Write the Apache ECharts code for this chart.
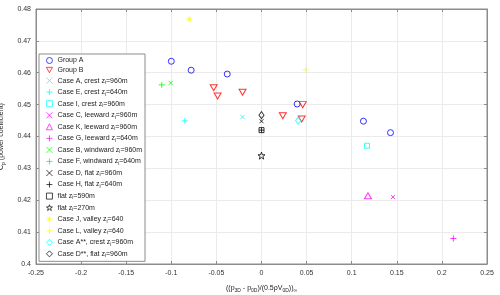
<!DOCTYPE html>
<html>
<head>
<meta charset="utf-8">
<title>Cp scatter</title>
<script src="https://cdn.jsdelivr.net/npm/echarts@6/dist/echarts.min.js"></script>
<style>
  html,body{margin:0;padding:0;background:#fff;}
  #container{width:500px;height:295px;}
</style>
</head>
<body>
<div id="container"></div>
<script>
// points, [x, Cp]
var groupA = [[-0.100,0.4636],[-0.078,0.4608],[-0.038,0.4596],[0.0395,0.4502],[0.113,0.4448],[0.143,0.4412]];
var groupB = [[-0.053,0.4553],[-0.0487,0.4527],[-0.021,0.4539],[0.0236,0.4465],[0.0457,0.4500],[0.0446,0.4455]];
var caseA  = [[-0.021,0.4461]];
var caseE  = [[-0.085,0.4449]];
var caseI  = [[0.117,0.4371]];
var caseC  = [[0.1457,0.4210]];
var caseK  = [[0.118,0.4214]];
var caseG  = [[0.2127,0.4080]];
var caseB  = [[-0.1007,0.4568]];
var caseF  = [[-0.1106,0.4562]];
var caseD  = [[0,0.4448]];
var caseH  = [[0,0.4420]];
var flat590 = [[0,0.4420]];
var flat270 = [[0,0.4340]];
var caseJ  = [[-0.080,0.4768]];
var caseL  = [[0.049,0.4609]];
var caseA2 = [[0.0406,0.4450]];
var caseD2 = [[0,0.4467]];

var xMin = -0.25, xMax = 0.25, xStep = 0.05;
var yMin = 0.40, yMax = 0.48, yStep = 0.01;

var P_X = 'path://M0,0L10,10M10,0L0,10';
var P_PLUS = 'path://M5,0L5,10M0,5L10,5';
var P_AST = 'path://M5,0L5,10M0,5L10,5M1.5,1.5L8.5,8.5M8.5,1.5L1.5,8.5';
var P_TRIDOWN = 'path://M0,0L10,0L5,9Z';
var P_STAR = 'path://M5,0L6.18,3.38L9.76,3.45L6.9,5.62L7.94,9.05L5,7L2.06,9.05L3.1,5.62L0.24,3.45L3.82,3.38Z';

function mk(name, pts, symbol, size, color){
   return {
      name: name,
      type: 'scatter',
      data: pts,
      symbol: symbol,
      symbolSize: size,
      itemStyle: {color: 'rgba(0,0,0,0)', borderColor: color, borderWidth: 1},
      emphasis: {disabled: true},
      z: 3
   };
}

var series = [
   mk('Group A', groupA, 'circle', 6, '#0000ff'),
   mk('Group B', groupB, P_TRIDOWN, [7,6], '#ff0000'),
   mk('Case A, crest z_i=960m', caseA, P_X, 4, '#00ffff'),
   mk('Case E, crest z_i=640m', caseE, P_PLUS, 6, '#00ffff'),
   mk('Case I, crest z_i=960m', caseI, 'rect', 5, '#00ffff'),
   mk('Case C, leeward z_i=960m', caseC, P_X, 4, '#ff00ff'),
   mk('Case K, leeward z_i=960m', caseK, 'triangle', [7,6], '#ff00ff'),
   mk('Case G, leeward z_i=640m', caseG, P_PLUS, 6, '#ff00ff'),
   mk('Case B, windward z_i=960m', caseB, P_X, 4, '#00ff00'),
   mk('Case F, windward z_i=640m', caseF, P_PLUS, 6, '#00ff00'),
   mk('Case D, flat z_i=960m', caseD, P_X, 4, '#000000'),
   mk('Case H, flat z_i=640m', caseH, P_PLUS, 5, '#000000'),
   mk('flat z_i=590m', flat590, 'rect', 5, '#000000'),
   mk('flat z_i=270m', flat270, P_STAR, 7, '#000000'),
   mk('Case J, valley z_i=640', caseJ, P_AST, 6, '#ffff00'),
   mk('Case L, valley z_i=640', caseL, P_PLUS, 6, '#ffff00'),
   mk('Case A**, crest z_i=960m', caseA2, 'diamond', [5,7], '#00ffff'),
   mk('Case D**, flat z_i=960m', caseD2, 'diamond', [5,7], '#000000')
];

function fmtTick(v){ return String(parseFloat(v.toFixed(2))); }

var tickFont = {fontFamily: 'Liberation Sans', fontSize: 7, color: '#333'};
var axisGray = '#8c8c8c';

var option = {
   animation: false,
   textStyle: {fontFamily: 'Liberation Sans'},
   grid: {left: 36, right: 13, top: 9, bottom: 31, show: true, borderColor: axisGray, borderWidth: 1, outerBoundsMode: 'none'},
   legend: {
      orient: 'vertical',
      left: 39, top: 54,
      padding: [3, 3, 3, 7],
      itemWidth: 6, itemHeight: 6, itemGap: 2.55,
      itemStyle: {borderWidth: 0.9},
      backgroundColor: '#fff',
      borderColor: axisGray, borderWidth: 1,
      selectedMode: false,
      data: series.map(function(s){ return s.name; }),
      formatter: function(name){
         var p = name.split('z_i');
         if(p.length > 1){
            return '{t|' + p[0] + 'z}{s|i}{t|' + p[1] + '}';
         }
         return '{t|' + name + '}';
      },
      textStyle: {
         color: '#222',
         rich: {
            t: {fontFamily: 'Liberation Sans', fontSize: 7, lineHeight: 9, color: '#222'},
            s: {fontFamily: 'Liberation Sans', fontSize: 5, lineHeight: 5, padding: [4,0,0,0], color: '#222'}
         }
      }
   },
   xAxis: [{
      type: 'value', min: xMin, max: xMax, interval: xStep,
      name: '{t|((p}{s|3D}{t| - p}{s|0D}{t|)/(0.5ρV}{s|0D}{t|))}{s|∞}',
      nameLocation: 'middle', nameGap: 19,
      nameTextStyle: {
         rich: {
            t: {fontFamily: 'Liberation Sans', fontSize: 7, color: '#222'},
            s: {fontFamily: 'Liberation Sans', fontSize: 5, padding: [5,0,0,0], color: '#222'}
         }
      },
      axisLine: {show: true, onZero: false, lineStyle: {color: axisGray}},
      axisTick: {show: true, inside: true, length: 3, lineStyle: {color: axisGray}},
      axisLabel: Object.assign({formatter: fmtTick, margin: 6}, tickFont),
      splitLine: {show: true, lineStyle: {color: '#ebebeb'}}
   }, {
      type: 'value', min: xMin, max: xMax, interval: xStep, position: 'top',
      axisLine: {show: true, onZero: false, lineStyle: {color: axisGray}},
      axisTick: {show: true, inside: true, length: 3, lineStyle: {color: axisGray}},
      axisLabel: {show: false},
      splitLine: {show: false}
   }],
   yAxis: [{
      type: 'value', min: yMin, max: yMax, interval: yStep,
      name: '{t|C}{s|p}{t| (power coefficient)}',
      nameLocation: 'middle', nameGap: 24, nameRotate: 90,
      nameTextStyle: {
         rich: {
            t: {fontFamily: 'Liberation Sans', fontSize: 7, color: '#222'},
            s: {fontFamily: 'Liberation Sans', fontSize: 5, padding: [5,0,0,0], color: '#222'}
         }
      },
      axisLine: {show: true, onZero: false, lineStyle: {color: axisGray}},
      axisTick: {show: true, inside: true, length: 3, lineStyle: {color: axisGray}},
      axisLabel: Object.assign({formatter: fmtTick, margin: 5}, tickFont),
      splitLine: {show: true, lineStyle: {color: '#ebebeb'}}
   }, {
      type: 'value', min: yMin, max: yMax, interval: yStep, position: 'right',
      axisLine: {show: true, onZero: false, lineStyle: {color: axisGray}},
      axisTick: {show: true, inside: true, length: 3, lineStyle: {color: axisGray}},
      axisLabel: {show: false},
      splitLine: {show: false}
   }],
   series: series
};

var myChart = echarts.init(document.getElementById('container'));
myChart.setOption(option);
</script>
</body>
</html>
